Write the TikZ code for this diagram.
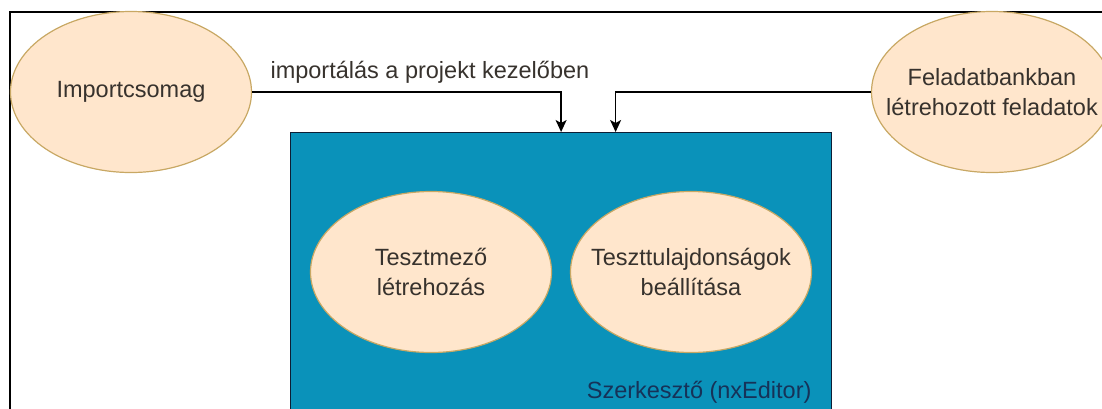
\documentclass[tikz,border=0pt]{standalone}
\usepackage{fontspec}
\setmainfont{Liberation Sans}
\usetikzlibrary{arrows.meta, shapes, positioning}

\definecolor{peach}{RGB}{255,230,204}
\definecolor{peachLine}{RGB}{200,168,100}
\definecolor{editorBlue}{RGB}{10,146,186}
\definecolor{navy}{RGB}{22,50,88}
\definecolor{txt}{RGB}{55,50,45}

\begin{document}
\begin{tikzpicture}[x=1pt, y=-1pt, on grid, font=\fontsize{23.5}{30}\selectfont,
	task/.style = {ellipse, draw=peachLine, fill=peach, line width=1.2pt, text=txt, align=center,
		minimum width=241pt, minimum height=161pt, inner ysep=0pt, inner xsep=-16pt},
	flow/.style = {-{Stealth[length=12pt, width=11pt, inset=3pt]}, line width=1.5pt}]
	\useasboundingbox (0,0) rectangle (1102,408);
	\draw[line width=2pt] (9.5,430) |- (1120,11.5);
	
	\node[draw=navy!60!black, fill=editorBlue, line width=1.2pt, minimum width=541pt, minimum height=300pt, anchor=north west] (editor) at (290,132) {};
	\node[task] (importPkg) at (131,92) {Importcsomag};
	\node[task, inner xsep=-22pt] (taskBank) at (992,92) {Feladatbankban\\létrehozott feladatok};
	\node[task] (fieldNew) at (431,272) {Tesztmező\\létrehozás};
	\node[task, right = 260pt of fieldNew] (testProps) {Teszttulajdonságok\\beállítása};
	\node[anchor=base east, text=navy] (editorLbl) at (815,398) {Szerkesztő (nxEditor)};
	\node[anchor=base west, text=txt] (importLbl) at (267,78) {importálás a projekt kezelőben};
	
	\draw[flow] (importPkg.east) -| (editor.north);
	\draw[flow] (taskBank.west) -| ([xshift=54.5pt]editor.north);
\end{tikzpicture}
\end{document}
